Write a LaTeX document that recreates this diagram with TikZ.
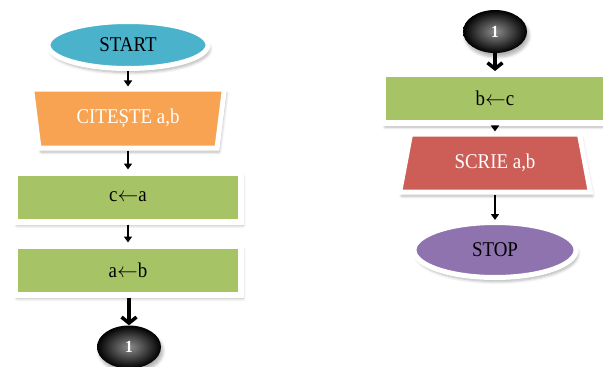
\documentclass[tikz,border=0pt]{standalone}
\usepackage{fontspec}
\setmainfont{Liberation Serif}[FakeStretch=0.9]
\usepackage{tikz}
\usetikzlibrary{shapes.geometric, shadows.blur, arrows.meta}
\definecolor{startblue}{RGB}{75,178,204}
\definecolor{readorange}{RGB}{247,163,82}
\definecolor{procgreen}{RGB}{166,195,102}
\definecolor{writered}{RGB}{205,93,87}
\definecolor{stoppurple}{RGB}{142,115,175}

\begin{document}
\begin{tikzpicture}[x=1pt, y=-1pt, font=\fontsize{21}{23}\selectfont,
    softshadow/.style={blur shadow={shadow xshift=2pt, shadow yshift=-4pt,
        shadow blur radius=3pt, shadow blur steps=6, shadow opacity=30}},
    term/.style={ellipse, draw=white, line width=5pt, inner sep=0pt, softshadow},
    proc/.style={rectangle, draw=white, line width=6pt, fill=procgreen,
        minimum width=226pt, minimum height=49pt, softshadow},
    io/.style={trapezium, trapezium stretches=true, draw=white, line width=5pt,
        text=white, softshadow},
    conn/.style={ellipse, minimum width=64pt, minimum height=43pt, inner sep=0pt,
        inner color=black!45, outer color=black, text=white,
        font=\fontsize{17}{19}\selectfont\bfseries, softshadow},
    flow/.style={-{Triangle[length=6pt, width=8pt]}, line width=1.6pt},
    jump/.style={-{Straight Barb[length=6pt, width=15pt]}, line width=3.5pt}]
    \useasboundingbox (0,0) rectangle (603,367);
    % left column
    \node[term, fill=startblue, minimum width=160pt, minimum height=47pt] (start) at (128,45) {START};
    \node[io, fill=readorange, trapezium left angle=100, trapezium right angle=100,
        minimum width=193pt, minimum height=59pt] (citeste) at (128,118.5) {CITEȘTE a,b};
    \node[proc] (ca) at (128,197) {c$\leftarrow$a};
    \node[proc] (ab) at (128,270) {a$\leftarrow$b};
    \node[conn] (conA) at (129,347) {1};
    % right column
    \node[conn] (conB) at (495,31.5) {1};
    \node[proc, minimum width=224pt] (bc) at (495,98.5) {b$\leftarrow$c};
    \node[io, fill=writered, trapezium left angle=77, trapezium right angle=77,
        minimum width=191pt, minimum height=58pt] (scrie) at (495,163) {SCRIE a,b};
    \node[term, fill=stoppurple, minimum width=162pt, minimum height=55pt] (stop) at (495,250) {STOP};
    % connectors
    \draw[flow] (start) -- (citeste);
    \draw[flow] (citeste) -- (ca);
    \draw[flow] (ca) -- (ab);
    \draw[jump] (ab.south -| conA) -- (conA);
    \draw[jump] (conB) -- (bc);
    \draw[flow] (bc) -- (scrie);
    \draw[flow] (scrie) -- (stop);
\end{tikzpicture}
\end{document}
